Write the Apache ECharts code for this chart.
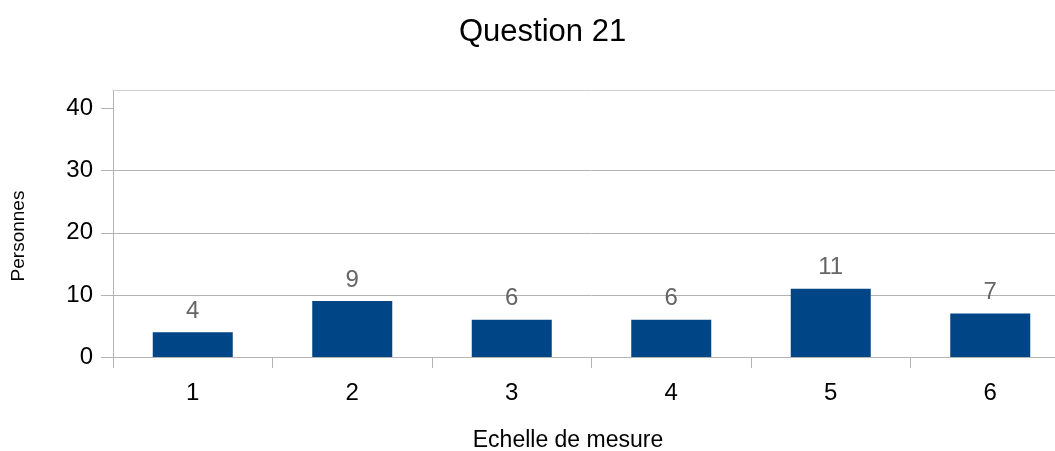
<!DOCTYPE html>
<html>
<head>
<meta charset="utf-8">
<script src="https://cdn.jsdelivr.net/npm/echarts@6/dist/echarts.min.js"></script>
<style>
html,body{margin:0;padding:0;background:#fff;overflow:hidden;width:1055px;height:451px;}
#chart{width:1070px;height:451px;}
</style>
</head>
<body>
<div id="chart"></div>
<script>
const titleText = 'Question 21';
const categories = ['1', '2', '3', '4', '5', '6'];
const personnes = [4, 9, 6, 6, 11, 7];
const yTickValues = [0, 10, 20, 30, 40];
const xAxisTitle = 'Echelle de mesure';
const yAxisTitle = 'Personnes';

const FONT = 'Liberation Sans, Arial, sans-serif';
const chart = echarts.init(document.getElementById('chart'), null, {renderer: 'canvas'});
chart.setOption({
  animation: false,
  backgroundColor: '#ffffff',
  title: {
    text: titleText,
    left: 454,
    top: 12,
    textStyle: {fontFamily: FONT, fontSize: 31, fontWeight: 'normal', color: '#000'}
  },
  grid: {left: 113, top: 90, right: 0, bottom: 94, containLabel: false},
  xAxis: [{
    type: 'category',
    data: categories,
    boundaryGap: true,
    axisLine: {show: true, lineStyle: {color: '#b3b3b3', width: 1}},
    axisTick: {show: true, length: 11, alignWithLabel: false, lineStyle: {color: '#b3b3b3'}},
    axisLabel: {fontFamily: FONT, fontSize: 24, color: '#000', margin: 24},
    splitLine: {show: false}
  }, {
    type: 'category',
    position: 'top',
    data: categories,
    axisLine: {show: true, lineStyle: {color: '#d0d0d0', width: 1}},
    axisTick: {show: false},
    axisLabel: {show: false},
    splitLine: {show: false}
  }],
  yAxis: {
    type: 'value',
    min: 0,
    max: 43,
    interval: 10,
    axisLine: {show: true, lineStyle: {color: '#b3b3b3', width: 1}},
    axisTick: {show: true, length: 12, lineStyle: {color: '#b3b3b3'}, customValues: yTickValues},
    axisLabel: {fontFamily: FONT, fontSize: 24, color: '#000', margin: 20, customValues: yTickValues},
    splitLine: {show: true, showMaxLine: false, lineStyle: {color: '#b3b3b3', width: 1}}
  },
  graphic: [{
    type: 'text',
    x: 19, y: 236,
    rotation: Math.PI / 2,
    style: {text: yAxisTitle, font: '19px ' + FONT, fill: '#000', align: 'center', verticalAlign: 'middle'}
  }, {
    type: 'text',
    x: 568, y: 441,
    style: {text: xAxisTitle, font: '23px ' + FONT, fill: '#000', align: 'center', verticalAlign: 'middle'}
  }],
  series: [{
    type: 'bar',
    data: personnes,
    barWidth: 80,
    itemStyle: {color: '#004586'},
    label: {show: true, position: 'top', distance: 9, fontFamily: FONT, fontSize: 24, color: '#666666'}
  }]
});
</script>
</body>
</html>
